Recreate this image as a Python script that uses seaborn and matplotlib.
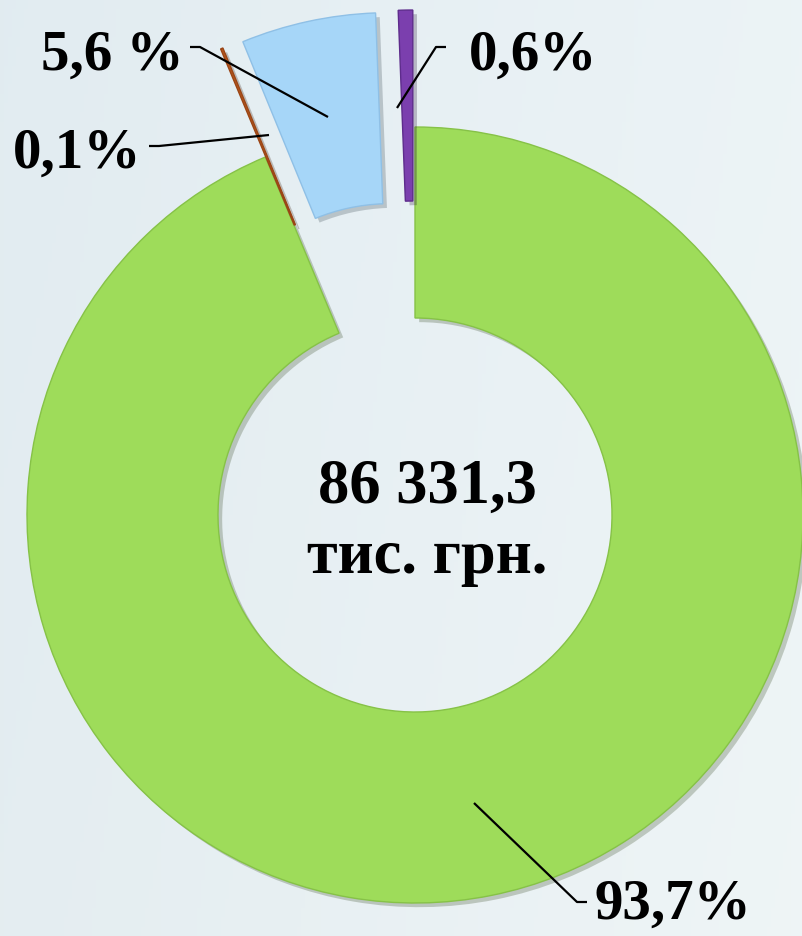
import numpy as np
import matplotlib.pyplot as plt
import matplotlib.patheffects as pe
import seaborn as sns

# data (clockwise from 12 o'clock)
shares = [93.7, 0.1, 5.6, 0.6]
share_labels = ['93,7%', '0,1%', '5,6 %', '0,6%']
colors = ['#9edc5a', '#b5561e', '#a6d6f8', '#7b3fae']
edge_colors = ['#86c247', '#9a4515', '#8fc0e6', '#5e2c8c']
total_text = '86 331,3\nтис. грн.'

W, H = 803, 936
R, RING = 388, 191
# pie() shifts exploded wedges in data units, so give pixels here
explode = [0, 117, 117, 117]

sns.set_theme(style='white')
plt.rcParams['font.family'] = ['Liberation Serif', 'DejaVu Serif']

fig = plt.figure(figsize=(W / 100, H / 100), dpi=100)

# soft bluish background
bg = fig.add_axes([0, 0, 1, 1])
yy, xx = np.mgrid[0:1:200j, 0:1:200j]
img = np.dstack([0.885 + 0.04 * xx + 0.01 * yy,
                 0.925 + 0.03 * xx + 0.005 * yy,
                 0.945 + 0.02 * xx])
bg.imshow(np.clip(img, 0, 1), extent=(0, 1, 0, 1), aspect='auto', origin='upper')
bg.axis('off')

ax = fig.add_axes([0, 0, 1, 1])
ax.patch.set_alpha(0)

wedges, _ = ax.pie(shares, colors=colors, explode=explode, startangle=90,
                   counterclock=False, center=(415, H - 515), radius=R,
                   wedgeprops=dict(width=RING, linewidth=1))
for w, ec in zip(wedges, edge_colors):
    w.set_edgecolor(ec)
    w.set_path_effects([pe.SimplePatchShadow(offset=(3, -3), alpha=0.25),
                        pe.Normal()])

ax.set_xlim(0, W)
ax.set_ylim(0, H)
ax.set_aspect('equal')
ax.axis('off')

# leader lines and labels (image coordinates, y measured from top)
leaders = [
    [(474, 803), (577, 902), (587, 902)],
    [(149, 146), (159, 146), (269, 135)],
    [(190, 47), (200, 47), (328, 117)],
    [(446, 47), (436, 47), (397, 108)],
]
label_pos = [(595, 919, 'left'), (141, 168, 'right'),
             (184, 70, 'right'), (469, 70, 'left')]

for pts, lab, (lx, ly, ha) in zip(leaders, share_labels, label_pos):
    xs = [p[0] for p in pts]
    ys = [H - p[1] for p in pts]
    ax.plot(xs, ys, color='black', lw=1.6, solid_capstyle='butt')
    ax.text(lx, H - ly, lab, ha=ha, va='baseline', fontsize=41,
            fontweight='bold', color='black')

line1, line2 = total_text.split('\n')
ax.text(427, H - 503, line1, ha='center', va='baseline',
        fontsize=45, fontweight='bold', color='black')
ax.text(427, H - 573, line2, ha='center', va='baseline',
        fontsize=45, fontweight='bold', color='black')

fig.savefig('out.png', dpi=100)
